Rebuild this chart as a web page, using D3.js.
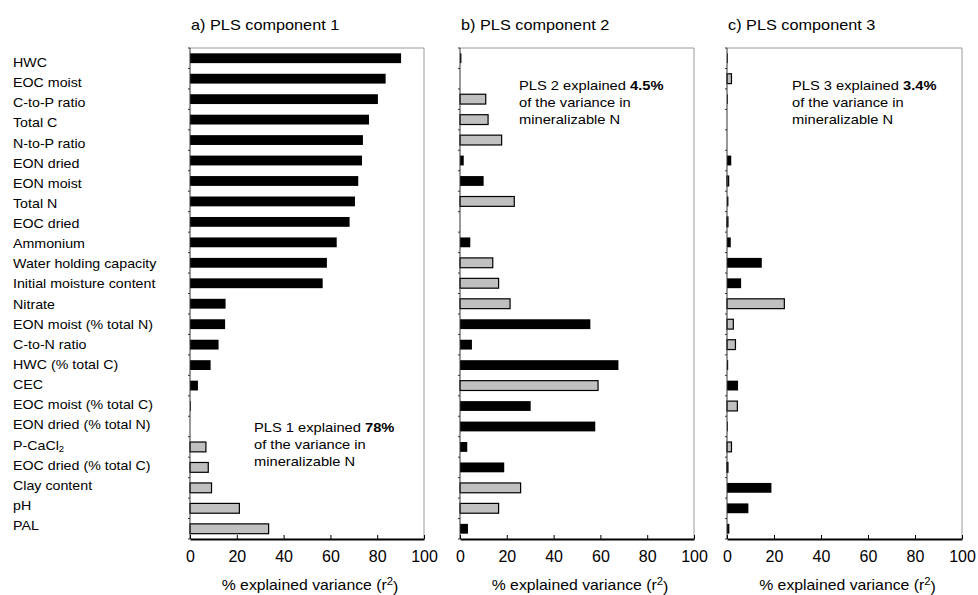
<!DOCTYPE html>
<html>
<head>
<meta charset="utf-8">
<script src="https://cdn.jsdelivr.net/npm/d3@7"></script>
<style>
  html, body { margin: 0; padding: 0; background: #fff; }
  svg { display: block; font-family: "Liberation Sans", Arial, sans-serif; }
</style>
</head>
<body>
<svg id="chart" width="978" height="595"></svg>
<script>
// Soil variables (rows, top to bottom)
const variables = [
  "HWC", "EOC moist", "C-to-P ratio", "Total C", "N-to-P ratio", "EON dried",
  "EON moist", "Total N", "EOC dried", "Ammonium", "Water holding capacity",
  "Initial moisture content", "Nitrate", "EON moist (% total N)", "C-to-N ratio",
  "HWC (% total C)", "CEC", "EOC moist (% total C)", "EON dried (% total N)",
  "P-CaCl2", "EOC dried (% total C)", "Clay content", "pH", "PAL"
];

// % explained variance (r²) per PLS component
const pls1 = [90.2, 83.6, 80.3, 76.5, 73.9, 73.5, 71.9, 70.5, 68.2, 62.7, 58.5, 56.7,
  15.2, 15.0, 12.2, 8.8, 3.4, 0.3, 0, 6.8, 7.8, 9.2, 21.1, 33.6];
const pls2 = [0.6, 0, 11.0, 12.0, 17.8, 1.6, 10.1, 23.2, 0, 4.4, 14.0, 16.5,
  21.4, 55.7, 5.1, 67.7, 59.0, 30.2, 57.8, 3.1, 18.9, 25.9, 16.5, 3.4];
const pls3 = [0.3, 1.9, 0.3, 0, 0, 1.8, 0.7, 0.6, 0.4, 1.6, 14.8, 6.0,
  24.4, 2.7, 3.6, 0.5, 4.7, 4.4, 0.3, 1.9, 0.4, 18.9, 9.1, 1.0];

// Sign of the loading: "+" drawn black, "-" drawn grey
const sign1 = ["+","+","+","+","+","+","+","+","+","+","+","+","+","+","+","+","+","+","+","-","-","-","-","-"];
const sign2 = ["+","+","-","-","-","+","+","-","+","+","-","-","-","+","+","+","-","+","+","+","+","-","-","+"];
const sign3 = ["+","-","+","+","+","+","-","+","-","+","+","+","-","-","-","+","+","-","+","-","-","+","+","+"];

const panelTitles = ["a) PLS component 1", "b) PLS component 2", "c) PLS component 3"];
const explained = ["78%", "4.5%", "3.4%"];
const plsNames = ["PLS 1", "PLS 2", "PLS 3"];
const xTicks = [0, 20, 40, 60, 80, 100];

const svg = d3.select("#chart");
const plotTop = 48, plotBottom = 539;
const widen = 1.13; // horizontal stretch of the lettering
const panels = [
  { left: 190, right: 424, values: pls1, signs: sign1, noteX: 254, noteY: 432 },
  { left: 460, right: 694, values: pls2, signs: sign2, noteX: 519, noteY: 90 },
  { left: 727, right: 962, values: pls3, signs: sign3, noteX: 792, noteY: 90 }
];

const y = d3.scaleBand().domain(variables).range([plotTop, plotBottom])
  .paddingInner(0.52).paddingOuter(0.26);
const labelY = d3.scalePoint().domain(variables).range([62.5, 525.5]);

function stretched(parent, x, yy, size) {
  return parent.append("text")
    .attr("transform", `translate(${x},${yy}) scale(${widen},1)`)
    .attr("font-size", size)
    .attr("fill", "#000");
}

// Row labels
const labels = svg.append("g");
variables.forEach(v => {
  const t = stretched(labels, 13, labelY(v), 12.6).attr("dy", "0.36em");
  if (v === "P-CaCl2") {
    t.append("tspan").text("P-CaCl");
    t.append("tspan").attr("font-size", 8.5).attr("dy", "0.35em").text("2");
  } else {
    t.text(v);
  }
});

panels.forEach((p, i) => {
  const x = d3.scaleLinear().domain([0, 100]).range([p.left, p.right]);
  const g = svg.append("g");

  // Frame: top and right in grey
  g.append("path")
    .attr("d", `M${p.left},${plotTop}H${p.right}V${plotBottom}`)
    .attr("fill", "none").attr("stroke", "#9a9a9a").attr("stroke-width", 1);

  // Bars
  g.selectAll("rect.bar")
    .data(variables.map((v, k) => ({ v, val: p.values[k], s: p.signs[k] })).filter(d => d.val > 0))
    .join("rect")
    .attr("class", "bar")
    .attr("x", x(0))
    .attr("y", d => y(d.v))
    .attr("width", d => Math.max(0.8, x(d.val) - x(0)))
    .attr("height", y.bandwidth())
    .attr("fill", d => d.s === "+" ? "#000" : "#c0c0c0")
    .attr("stroke", "#000")
    .attr("stroke-width", d => d.s === "+" ? 0 : 1.2);

  // Left axis with category ticks
  const yAxis = g.append("g").attr("transform", `translate(${p.left},0)`);
  yAxis.append("line").attr("x1", 0).attr("x2", 0).attr("y1", plotTop).attr("y2", plotBottom)
    .attr("stroke", "#333").attr("stroke-width", 1);
  d3.range(variables.length + 1).forEach(k => {
    const yy = plotTop + k * (plotBottom - plotTop) / variables.length;
    yAxis.append("line").attr("x1", -2).attr("x2", 0).attr("y1", yy).attr("y2", yy)
      .attr("stroke", "#333").attr("stroke-width", 1);
  });

  // Bottom axis
  const xAxis = d3.axisBottom(x).tickValues(xTicks).tickSize(-4).tickPadding(12).tickSizeOuter(0);
  const ax = g.append("g").attr("transform", `translate(0,${plotBottom})`).call(xAxis);
  ax.select(".domain").attr("stroke", "#000").attr("stroke-width", 2);
  ax.selectAll(".tick line").attr("stroke", "#000");
  ax.selectAll(".tick text").attr("font-size", 16).attr("fill", "#000")
    .attr("font-family", "Liberation Sans, Arial, sans-serif");

  // Axis title
  const at = stretched(g, (p.left + p.right) / 2 + 3, 590, 14).attr("text-anchor", "middle");
  at.append("tspan").text("% explained variance (r");
  at.append("tspan").attr("font-size", 10).attr("dy", "-0.5em").text("2");
  at.append("tspan").attr("dy", "0.5em").text(")");

  // Panel title
  stretched(g, p.left + 1, 29.5, 14.4).text(panelTitles[i]);

  // Explained-variance note
  const note = stretched(g, p.noteX, p.noteY, 13);
  note.append("tspan").text(plsNames[i] + " explained ");
  note.append("tspan").attr("font-weight", "bold").text(explained[i]);
  stretched(g, p.noteX, p.noteY + 17, 13).text("of the variance in");
  stretched(g, p.noteX, p.noteY + 34, 13).text("mineralizable N");
});
</script>
</body>
</html>
